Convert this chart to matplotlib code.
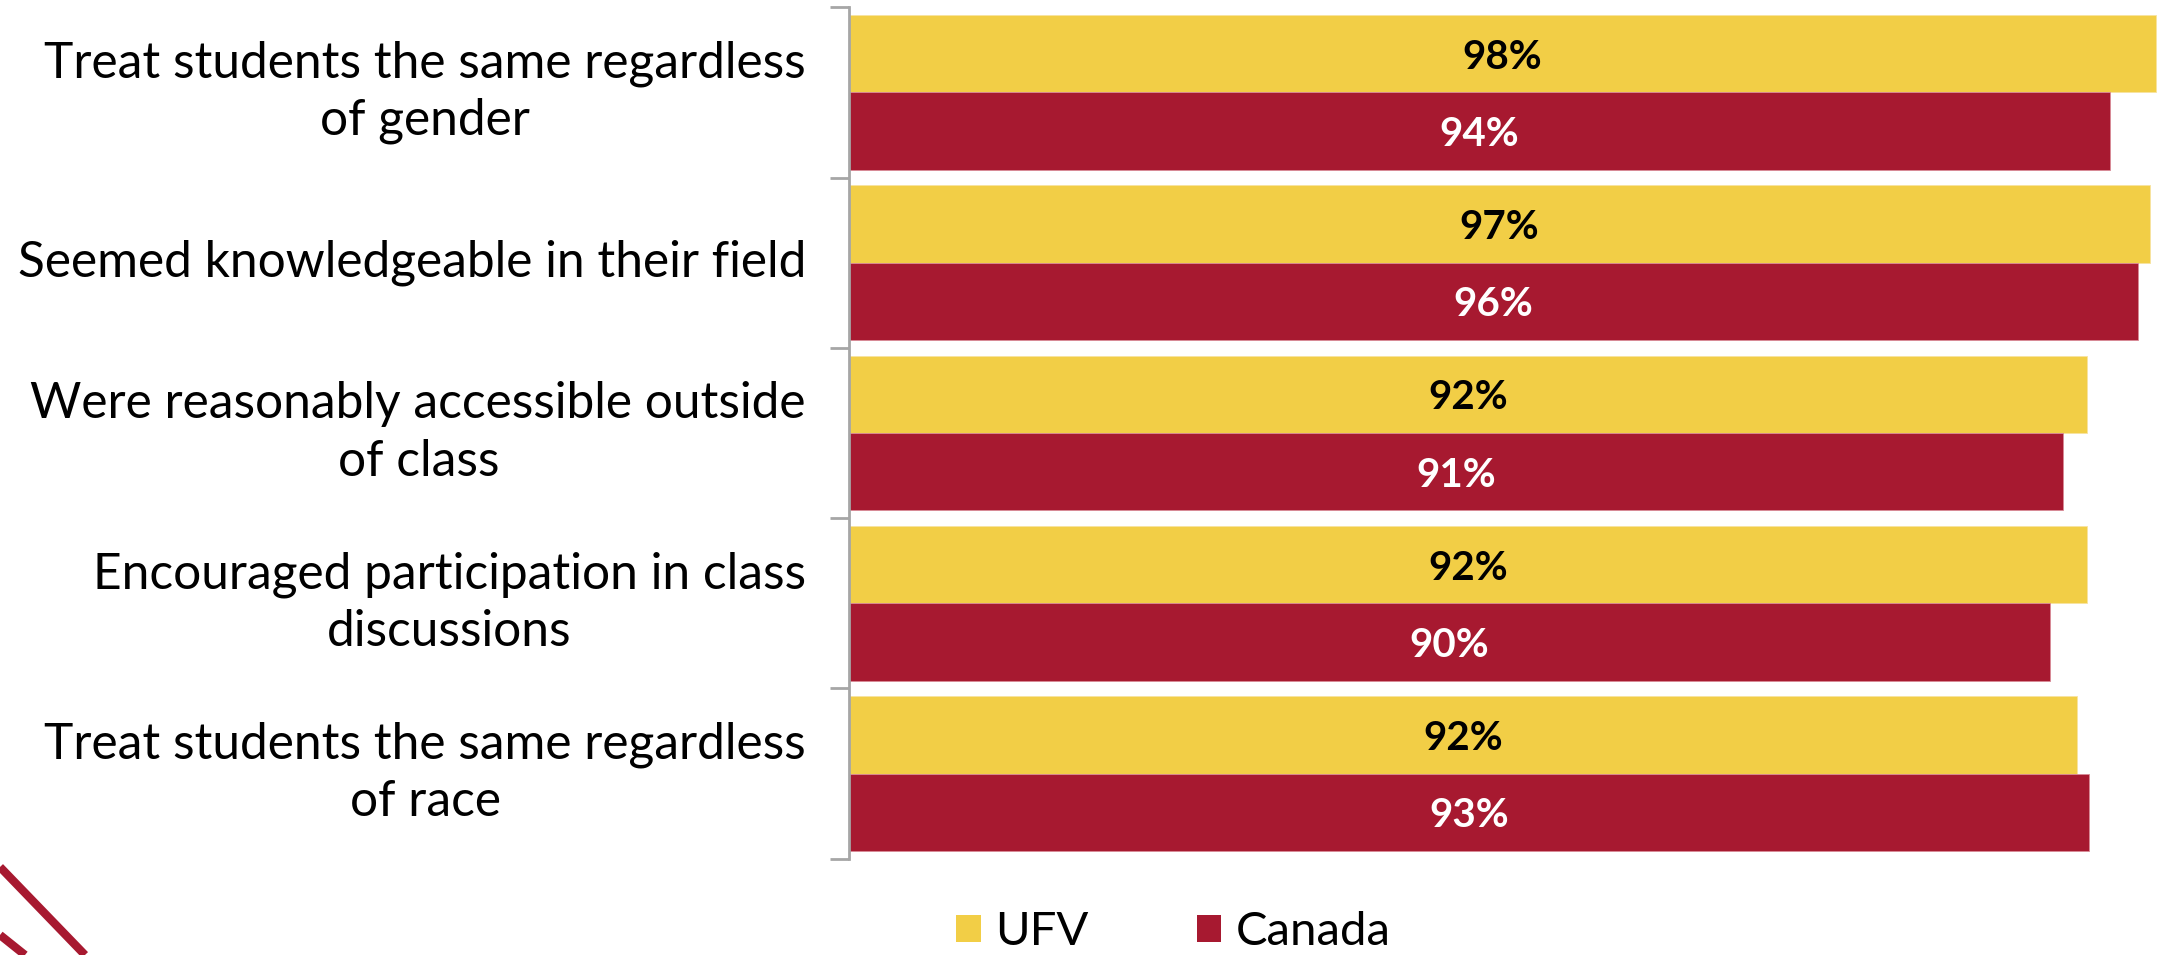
import matplotlib
matplotlib.use("Agg")
import matplotlib.pyplot as plt
from matplotlib.patches import Patch
from matplotlib.lines import Line2D
import numpy as np

categories = [
    "Treat students the same regardless\nof gender",
    "Seemed knowledgeable in their field",
    "Were reasonably accessible outside\nof class",
    "Encouraged participation in class\ndiscussions",
    "Treat students the same regardless\nof race",
]
ufv_values = [97.5, 97.1, 92.4, 92.4, 91.6]
canada_values = [94.1, 96.2, 90.6, 89.6, 92.5]
ufv_labels = ["98%", "97%", "92%", "92%", "92%"]
canada_labels = ["94%", "96%", "91%", "90%", "93%"]
series_names = ["UFV", "Canada"]

YELLOW = "#F2CE46"
RED = "#A71930"
GREY = "#A6A6A6"
FONT = ["Lato", "DejaVu Sans"]

plt.rcParams["font.family"] = FONT

W, H = 2157, 955
fig = plt.figure(figsize=(W / 100, H / 100), dpi=100)
ax_left, ax_top, ax_bot = 849, 7.3, 858.7
ax = fig.add_axes([ax_left / W, 1 - ax_bot / H, 1 - ax_left / W, (ax_bot - ax_top) / H])

y = np.arange(len(categories))
h = 0.455
ax.barh(y - h / 2, ufv_values, height=h, color=YELLOW, edgecolor="#F7E3A0", linewidth=0.6)
ax.barh(y + h / 2, canada_values, height=h, color=RED, edgecolor="#D98A96", linewidth=0.6)

for i in range(len(categories)):
    ax.text(ufv_values[i] / 2, y[i] - h / 2, ufv_labels[i], ha="center", va="center_baseline",
            fontsize=29, fontweight="bold", color="black")
    ax.text(canada_values[i] / 2, y[i] + h / 2, canada_labels[i], ha="center", va="center_baseline",
            fontsize=29, fontweight="bold", color="white")

ax.set_xlim(0, 97.6)
ax.set_ylim(len(categories) - 0.5, -0.5)

ax.set_yticks(np.arange(-0.5, len(categories), 1.0))
ax.set_yticklabels([])
ax.tick_params(axis="y", which="major", length=14, width=2, color=GREY, direction="out")
ax.set_yticks(y, minor=True)
ax.set_yticklabels(categories, minor=True, fontsize=35.7, ha="right", va="center",
                   multialignment="center", linespacing=1.3)
ax.tick_params(axis="y", which="minor", length=0, pad=31)
ax.set_xticks([])

for s in ["top", "right", "bottom"]:
    ax.spines[s].set_visible(False)
ax.spines["left"].set_color(GREY)
ax.spines["left"].set_linewidth(2)

handles = [Patch(facecolor=YELLOW, edgecolor="none"), Patch(facecolor=RED, edgecolor="none")]
fig.legend(handles, series_names, loc="center", bbox_to_anchor=(0.544, 0.024), ncol=2,
           frameon=False, fontsize=34, handlelength=0.52, handleheight=0.52,
           handletextpad=0.3, columnspacing=2.3)

# decorative diagonal lines in the lower-left corner
fig.add_artist(Line2D([0, 85 / W], [1 - 867 / H, 0], transform=fig.transFigure,
                      color=RED, linewidth=6, solid_capstyle="butt"))
fig.add_artist(Line2D([0, 25 / W], [1 - 935 / H, 0], transform=fig.transFigure,
                      color=RED, linewidth=6, solid_capstyle="butt"))

fig.savefig("out.png", dpi=100)
